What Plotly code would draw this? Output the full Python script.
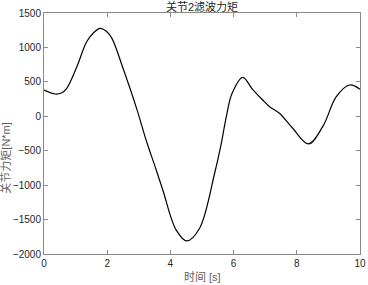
import plotly.graph_objects as go

t_vals = [0, 0.35, 0.55, 0.72, 1.04, 1.35, 1.57, 1.78, 1.99, 2.15, 2.52, 2.94, 3.23, 3.5, 3.76,
          4.18, 4.52, 4.92, 5.40, 5.6, 5.77, 5.95, 6.29, 6.6, 6.92, 7.14, 7.45, 7.87,
          8.37, 8.82, 9.25, 9.67, 10]
torque = [382, 324, 338, 406, 720, 1083, 1213, 1277, 1228, 1132, 672, 101, -344, -710, -1070,
          -1650, -1810, -1630, -827, -420, -6, 330, 566, 390, 237, 139, 43, -174,
          -402, -151, 284, 454, 392]

x_ticks = [0, 2, 4, 6, 8, 10]
y_ticks = [-2000, -1500, -1000, -500, 0, 500, 1000, 1500]

font_fam = "Liberation Sans, Arial, Noto Sans CJK SC"
axis_col = "#8a8a8a"
text_col = "#262626"
label_col = "#606060"

fig = go.Figure()
fig.add_trace(go.Scatter(x=t_vals, y=torque, mode="lines",
                         line=dict(color="black", width=1.2, shape="spline", smoothing=1.0),
                         showlegend=False, hoverinfo="skip"))

axis_common = dict(showline=True, linecolor=axis_col, linewidth=1, mirror="ticks",
                   ticks="inside", ticklen=4, tickcolor=axis_col, showgrid=False,
                   zeroline=False, automargin=False,
                   tickfont=dict(family=font_fam, size=10, color=text_col))

fig.update_xaxes(range=[0, 10], tickvals=x_ticks, **axis_common)
fig.update_yaxes(range=[-2000, 1500], tickvals=y_ticks, **axis_common)

fig.add_annotation(text="时间 [s]", xref="paper", yref="paper", x=0.5, y=-0.097,
                   xanchor="center", yanchor="middle", showarrow=False,
                   font=dict(family=font_fam, size=11, color=label_col))
fig.add_annotation(text="关节力矩[N*m]", xref="paper", yref="paper", x=-0.12, y=0.40,
                   xanchor="center", yanchor="middle", showarrow=False, textangle=-90,
                   font=dict(family=font_fam, size=11, color=label_col))

fig.update_layout(
    width=368, height=285,
    margin=dict(l=44, r=8, t=13, b=31),
    paper_bgcolor="white", plot_bgcolor="white",
    title=dict(text="关节2滤波力矩", xref="paper", x=0.5, xanchor="center", y=0.99, yanchor="top",
               font=dict(family=font_fam, size=11, color=text_col)),
)

fig.write_html("out.html", config={"displayModeBar": False},
               post_script="document.body.style.margin='0';document.body.style.overflow='hidden';")
